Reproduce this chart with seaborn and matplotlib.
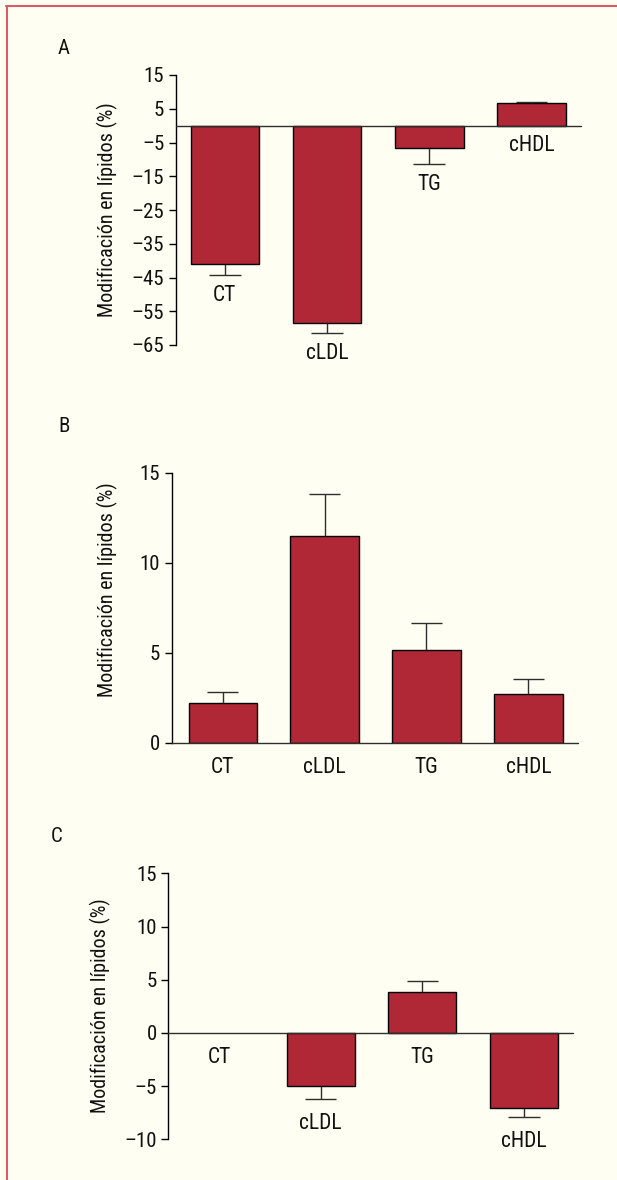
import pandas as pd
import matplotlib.pyplot as plt
from matplotlib.lines import Line2D
import seaborn as sns

# datos (cambio medio % y error)
categories = ["CT", "cLDL", "TG", "cHDL"]

values_a = [-41.1, -58.4, -6.7, 6.6]
errors_a = [3.2, 3.1, 4.8, 0.4]
ticks_a = [15, 5, -5, -15, -25, -35, -45, -55, -65]

values_b = [2.22, 11.48, 5.15, 2.69]
errors_b = [0.6, 2.35, 1.52, 0.85]
ticks_b = [0, 5, 10, 15]

values_c = [0.0, -4.95, 3.8, -7.05]
errors_c = [0.0, 1.3, 1.09, 0.87]
ticks_c = [-10, -5, 0, 5, 10, 15]

ylabel = "Modificación en lípidos (%)"

bg = "#fefef3"
bar_color = "#b02735"
err_color = "#2e2e2e"
text_color = "#111111"
frame_color = "#d65c66"

sns.set_theme(style="white")
plt.rcParams['font.family'] = ['Roboto Condensed', 'DejaVu Sans']

W, H = 617, 1180
fig = plt.figure(figsize=(W / 100, H / 100), dpi=100)
fig.patch.set_facecolor(bg)


def axes_px(left, top, right, bottom):
    return fig.add_axes([left / W, 1 - bottom / H, (right - left) / W, (bottom - top) / H])


def draw_panel(ax, values, errors, yticks, ylim, xlim, label_pad, fixed_labels=False):
    df = pd.DataFrame({"lipido": categories, "cambio": values})
    sns.barplot(data=df, x="lipido", y="cambio", order=categories, color=bar_color,
                saturation=1, width=0.67, edgecolor="black", linewidth=1.0,
                errorbar=None, ax=ax)
    for p in ax.patches:
        if p.get_height() == 0:
            p.set_visible(False)

    # barras de error solo hacia afuera
    for i, (v, e) in enumerate(zip(values, errors)):
        if e == 0:
            continue
        tip = v + e if v >= 0 else v - e
        ax.vlines(i, v, tip, color=err_color, lw=1.0, zorder=1)
        ax.hlines(tip, i - 0.155, i + 0.155, color=err_color, lw=1.0, zorder=1)

    # etiquetas de categoria junto a cada barra
    for i, (cat, v, e) in enumerate(zip(categories, values, errors)):
        y0 = 0 if (fixed_labels or v >= 0) else v - e
        ax.annotate(cat, (i, y0), xytext=(0, -label_pad), textcoords="offset points",
                    ha="center", va="top", fontsize=15.5, color=text_color,
                    annotation_clip=False)

    ax.axhline(0, color=err_color, lw=1.0, clip_on=False, zorder=3)
    ax.set_xlim(xlim)
    ax.set_ylim(ylim)
    ax.set_yticks(yticks)
    ax.set_yticklabels([str(t).replace("-", "\u2013") for t in yticks])
    ax.set_xticks([])
    ax.set_xlabel("")
    ax.set_ylabel(ylabel, fontsize=14.5, color=text_color)
    ax.patch.set_alpha(0)
    for s in ["top", "right", "bottom"]:
        ax.spines[s].set_visible(False)
    ax.spines["left"].set_color("black")
    ax.spines["left"].set_linewidth(1.0)
    ax.tick_params(axis="y", left=True, direction="out", length=4.8, width=1.0,
                   pad=3.5, labelsize=15, colors="black", labelcolor=text_color)


ax_a = axes_px(175.7, 75, 580.7, 345)
draw_panel(ax_a, values_a, errors_a, ticks_a, (-65, 15), (-0.48, 3.48), 7)
ax_a.yaxis.set_label_coords(118 / W, 1 - 210 / H, transform=fig.transFigure)

ax_b = axes_px(171.7, 472.7, 578.3, 742.7)
draw_panel(ax_b, values_b, errors_b, ticks_b, (0, 15), (-0.5, 3.49), 10, fixed_labels=True)
ax_b.yaxis.set_label_coords(118 / W, 1 - 590 / H, transform=fig.transFigure)

ax_c = axes_px(168.3, 873.3, 572.7, 1139.3)
draw_panel(ax_c, values_c, errors_c, ticks_c, (-10, 15), (-0.5, 3.48), 10)
ax_c.yaxis.set_label_coords(111 / W, 1 - 1006 / H, transform=fig.transFigure)

for letter, x, y in [("A", 64, 48), ("B", 64, 427), ("C", 57, 836)]:
    fig.text(x / W, 1 - y / H, letter, ha="center", va="center", fontsize=15, color=text_color)

# marco rojo de la figura
fig.add_artist(Line2D([6 / W, 1], [1 - 6 / H, 1 - 6 / H], color=frame_color, lw=1.5))
fig.add_artist(Line2D([6.5 / W, 6.5 / W], [0, 1 - 6 / H], color=frame_color, lw=1.5))

fig.savefig("out.png", dpi=100, facecolor=bg)
